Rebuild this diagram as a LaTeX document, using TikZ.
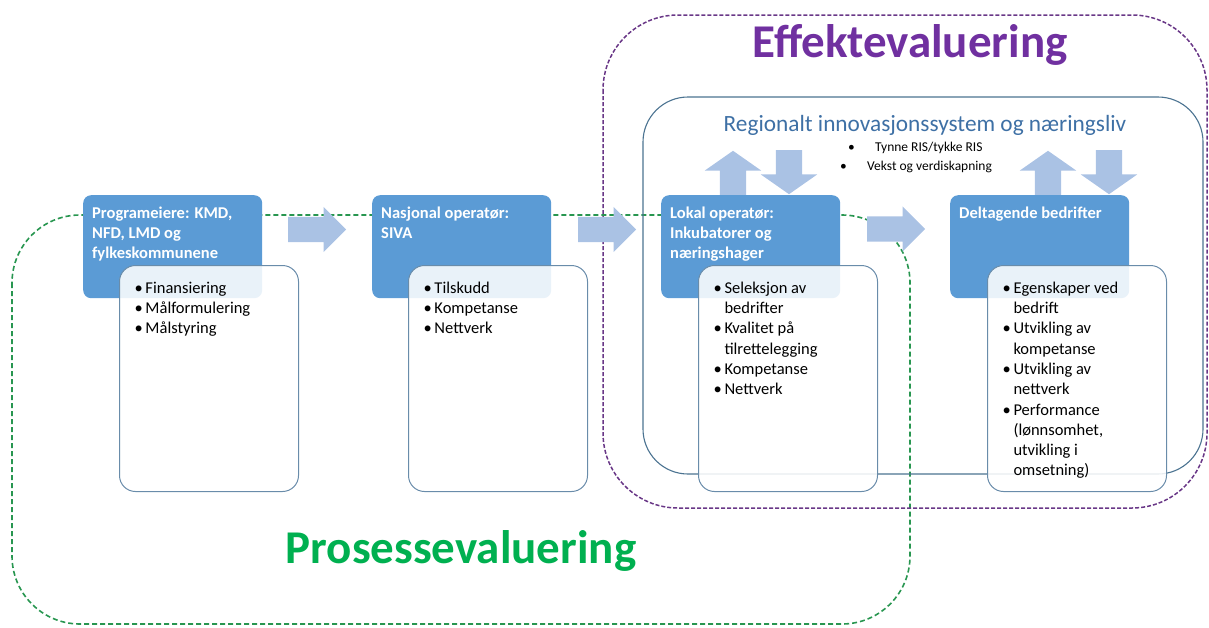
\documentclass[tikz,border=0pt]{standalone}
\usepackage{fontspec}
\setmainfont{Carlito}
\usepackage{tikz}
\usetikzlibrary{arrows,shapes}
\usetikzlibrary{shapes.arrows}
\usetikzlibrary{positioning}
\usetikzlibrary{calc}

\definecolor{hodeblaa}{RGB}{91,155,213}
\definecolor{pilblaa}{RGB}{170,194,228}
\definecolor{kantblaa}{RGB}{105,140,170}
\definecolor{risblaa}{RGB}{75,115,145}
\definecolor{tittelblaa}{RGB}{62,112,165}
\definecolor{prosessgronn}{RGB}{0,176,80}
\definecolor{prosesslinje}{RGB}{40,150,80}
\definecolor{effektlilla}{RGB}{112,48,160}
\definecolor{effektlinje}{RGB}{105,55,135}

% tekst i boksene
\newcommand{\hodetekst}[1]{\parbox[t][84pt][t]{161pt}{\raggedright\strut #1}}
\newcommand{\listetekst}[1]{\parbox[t][199pt][t]{149pt}{\raggedright #1}}
\newcommand{\pkt}[1]{\par\hangindent=11pt\hangafter=1\noindent\makebox[11pt][l]{\textbullet}\strut#1}

\tikzset{
    hode/.style={draw=none, fill=hodeblaa, rounded corners=8pt, anchor=north west,
        inner xsep=9pt, inner ysep=9.5pt, text=white,
        font=\fontsize{16.5}{20}\selectfont\bfseries},
    liste/.style={draw=kantblaa, line width=1pt, fill=white, fill opacity=0.87,
        text opacity=1, rounded corners=16pt, anchor=north west,
        inner xsep=15pt, inner ysep=13.5pt, font=\fontsize{16.5}{20.3}\selectfont},
    pil/.style={single arrow, fill=pilblaa, draw=none, inner sep=12.5pt, anchor=tail,
        minimum height=58pt, single arrow head extend=10pt},
    vpil/.style={pil, inner sep=13pt, minimum height=44pt,
        single arrow head extend=15pt, single arrow tip angle=110},
    punkt/.style={anchor=base west, inner sep=0pt, font=\fontsize{13.5}{16}\selectfont},
}

\begin{document}
\begin{tikzpicture}[x=1pt, y=-1pt]
	\useasboundingbox (0,0) rectangle (1209,627);
	% evalueringsrammer
	\draw[prosesslinje, line width=1.6pt, dash pattern=on 5pt off 3pt, rounded corners=68pt]
		(12,215) rectangle (910,624);
	\draw[effektlinje, line width=1.5pt, dash pattern=on 4pt off 2pt, rounded corners=75pt]
		(603,15) rectangle (1207,508);
	\draw[risblaa, line width=1.1pt, rounded corners=45pt] (643,97) rectangle (1203,474);
	%
	\node[effektlilla, anchor=base, font=\fontsize{47}{52}\selectfont\bfseries]
		(effekt) at (910,57) {Effektevaluering};
	\node[prosessgronn, anchor=base, font=\fontsize{47}{52}\selectfont\bfseries]
		(prosess) at (461,563) {Prosessevaluering};
	\node[tittelblaa, anchor=base, font=\fontsize{23.3}{27}\selectfont]
		(ris) at (925,131) {Regionalt innovasjonssystem og næringsliv};
	\node[punkt] (b1) at (848,151) {\textbullet};
	\node[punkt] (ris1) at (875,151) {Tynne RIS/tykke RIS};
	\node[punkt] (b2) at (840,170) {\textbullet};
	\node[punkt] (ris2) at (867,170) {Vekst og verdiskapning};
	%
	\node[pil] (p1) at (288,229.5) {};
	\node[pil] (p2) at (578,229.5) {};
	\node[pil] (p3) at (867,229) {};
	\node[vpil, shape border rotate=90] (opp1) at (733,195) {};
	\node[vpil, shape border rotate=270] (ned1) at (789,150) {};
	\node[vpil, shape border rotate=90] (opp2) at (1048,195) {};
	\node[vpil, shape border rotate=270] (ned2) at (1109,150) {};
	%
	\node[hode] (prog) at (83,195)
		{\hodetekst{Programeiere: KMD,\newline NFD, LMD og\newline fylkeskommunene}};
	\node[hode] (nasj) at (372,195) {\hodetekst{Nasjonal operatør:\newline SIVA}};
	\node[hode] (lokal) at (661,195)
		{\hodetekst{Lokal operatør:\newline Inkubatorer og\newline næringshager}};
	\node[hode] (delt) at (950,195) {\hodetekst{Deltagende bedrifter}};
	%
	\node[liste] (proglist) at (119,265)
		{\listetekst{\pkt{Finansiering}\pkt{Målformulering}\pkt{Målstyring}}};
	\node[liste] (nasjlist) at (408,265)
		{\listetekst{\pkt{Tilskudd}\pkt{Kompetanse}\pkt{Nettverk}}};
	\node[liste] (lokallist) at (698,265)
		{\listetekst{\pkt{Seleksjon av\newline bedrifter}\pkt{Kvalitet på\newline tilrettelegging}%
		\pkt{Kompetanse}\pkt{Nettverk}}};
	\node[liste] (deltlist) at (987,265)
		{\listetekst{\pkt{Egenskaper ved\newline bedrift}\pkt{Utvikling av\newline kompetanse}%
		\pkt{Utvikling av\newline nettverk}\pkt{Performance\newline (lønnsomhet,\newline utvikling i\newline omsetning)}}};
\end{tikzpicture}
\end{document}
